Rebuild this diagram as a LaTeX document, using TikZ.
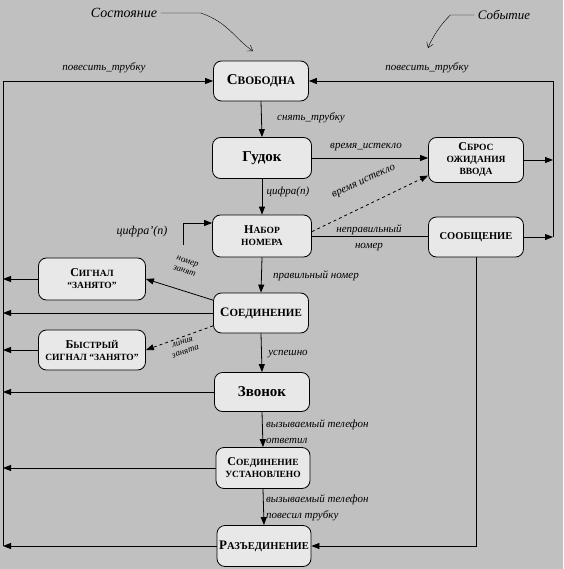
\documentclass[tikz,border=0pt]{standalone}
\usepackage{fontspec}
\setmainfont{Liberation Serif}
\usepackage{tikz}
\usetikzlibrary{arrows.meta,positioning,shapes,calc}
\definecolor{bggray}{RGB}{192,192,192}
\definecolor{boxgray}{RGB}{232,232,232}
\newcommand\bigc[1]{{\fontsize{12}{12}\selectfont #1}}

\begin{document}
\begin{tikzpicture}[x=1pt,y=-1pt,
  state/.style={draw, line width=0.8pt, rounded corners=8pt, fill=boxgray, minimum width=95pt,
    minimum height=40pt, align=center, inner sep=2pt, font=\bfseries\fontsize{9.5}{12}\selectfont},
  evt/.style={font=\itshape\fontsize{11}{16}\selectfont, inner sep=1pt},
  tr/.style={line width=0.8pt, -{Triangle[length=8pt,width=6pt]}},
  note/.style={thin, -{Straight Barb[length=5pt,width=7pt]}}]
% background
\fill[bggray] (0,0) rectangle (563,569);
\useasboundingbox (0,0) rectangle (563,569);

% States
\node[state, font=\bfseries\fontsize{11.5}{12}\selectfont] (free) at (261,81) {{\fontsize{15}{15}\selectfont С}ВОБОДНА};
\node[state, minimum width=99pt, minimum height=41pt, font=\bfseries\fontsize{15}{16}\selectfont] (tone) at (262,158) {Гудок};
\node[state, minimum height=45pt] (reset) at (476,160) {\bigc{С}БРОС\\ОЖИДАНИЯ\\ВВОДА};
\node[state, minimum width=99pt, minimum height=42pt] (dial) at (262,236) {\bigc{Н}АБОР\\НОМЕРА};
\node[state, font=\bfseries\fontsize{10.5}{12}\selectfont] (msg) at (476,237) {СООБЩЕНИЕ};
\node[state, minimum width=107pt, minimum height=42pt] (busy) at (92,279) {\bigc{С}ИГНАЛ\\“ЗАНЯТО”};
\node[state, font=\bfseries\fontsize{11}{12}\selectfont] (conn) at (261,313) {{\fontsize{13}{13}\selectfont С}ОЕДИНЕНИЕ};
\node[state, minimum width=107pt] (fastbusy) at (92,350) {\bigc{Б}ЫСТРЫЙ\\СИГНАЛ “ЗАНЯТО”};
\node[state, minimum height=39pt, font=\bfseries\fontsize{15}{16}\selectfont] (ring) at (262,392) {Звонок};
\node[state, minimum width=94pt, minimum height=41pt] (talk) at (263,468) {\bigc{С}ОЕДИНЕНИЕ\\УСТАНОВЛЕНО};
\node[state, minimum width=94pt, minimum height=41pt, font=\bfseries\fontsize{10.5}{12}\selectfont] (disc) at (264,546) {{\fontsize{13}{13}\selectfont Р}АЗЪЕДИНЕНИЕ};

% Legend
\node[font=\itshape\fontsize{14}{16}\selectfont] (lstate) at (124,13) {Состояние};
\node[font=\itshape\fontsize{13}{16}\selectfont] (levent) at (504,15) {Событие};
\coordinate (pstate) at (253,51);
\coordinate (pevent) at (428,48);
\draw[note] (lstate.east) -- ++(40,0) .. controls (228,22) and (236,40) .. (pstate);
\draw[note] (levent.west) -- ++(-24,0) .. controls (440,25) and (432,38) .. (pevent);

% Events
\node[evt] (hangL) at (104,68) {повесить\_трубку};
\node[evt] (hangR) at (427,68) {повесить\_трубку};
\node[evt] (offhook) at (311,118) {снять\_трубку};
\node[evt] (tout) at (366,147) {время\_истекло};
\node[evt, rotate=25] (tout2) at (364,182) {время истекло};
\node[evt] (digit) at (288,192) {цифра(n)};
\node[evt, font=\itshape\fontsize{12}{16}\selectfont] (digit2) at (142,232) {цифра'(n)};
\node[evt, align=center] (badnum) at (369,238) {неправильный\\номер};
\node[evt] (goodnum) at (316,276) {правильный номер};
\node[evt, rotate=-18, align=center, font=\itshape\fontsize{9}{10}\selectfont] (numbusy) at (186,266) {номер\\занят};
\node[evt, rotate=18, align=center, font=\itshape\fontsize{9}{10}\selectfont] (trunkbusy) at (184,347) {линия\\занята};
\node[evt] (routed) at (288,354) {успешно};
\node[evt, align=left, anchor=west] (answer) at (265,432) {вызываемый телефон\\ответил};
\node[evt, align=left, anchor=west] (hangup) at (265,508) {вызываемый телефон\\повесил трубку};

% Buses
\coordinate (lbusB) at (3,546);
\coordinate (rbusB) at (553,237);
\coordinate (dgt) at (183,245);

% Transitions
\draw[tr] (free.south) -- (tone.north);
\draw[tr] (tone.east) -- (tone.east -| reset.west);
\draw[tr] (tone.south) -- (dial.north);
\draw[tr] (dgt) |- ([yshift=13pt]dial.west);
\draw[tr, dashed] (dial.5) -- (reset.198);
\draw[line width=0.8pt] (dial.east) -- (dial.east -| msg.west);
\draw[tr] (dial.south) -- (conn.north);
\draw[tr] (conn.165) -- (busy.east);
\draw[tr, dashed] (conn.195) -- (fastbusy.east);
\draw[tr] (conn.south) -- (ring.north);
\draw[tr] (ring.south) -- (talk.north);
\draw[tr] (talk.south) -- (disc.north);
\draw[tr] (msg.south) |- (disc.east);
\draw[tr] (lbusB) |- (free.west);
\draw[tr] (rbusB) |- (free.east);
\foreach \s in {busy,conn,fastbusy,ring,talk,disc}
  \draw[tr] (\s.west) -- (\s.west -| lbusB);
\foreach \s in {reset,msg}
  \draw[tr] (\s.east) -- (\s.east -| rbusB);

\end{tikzpicture}
\end{document}
